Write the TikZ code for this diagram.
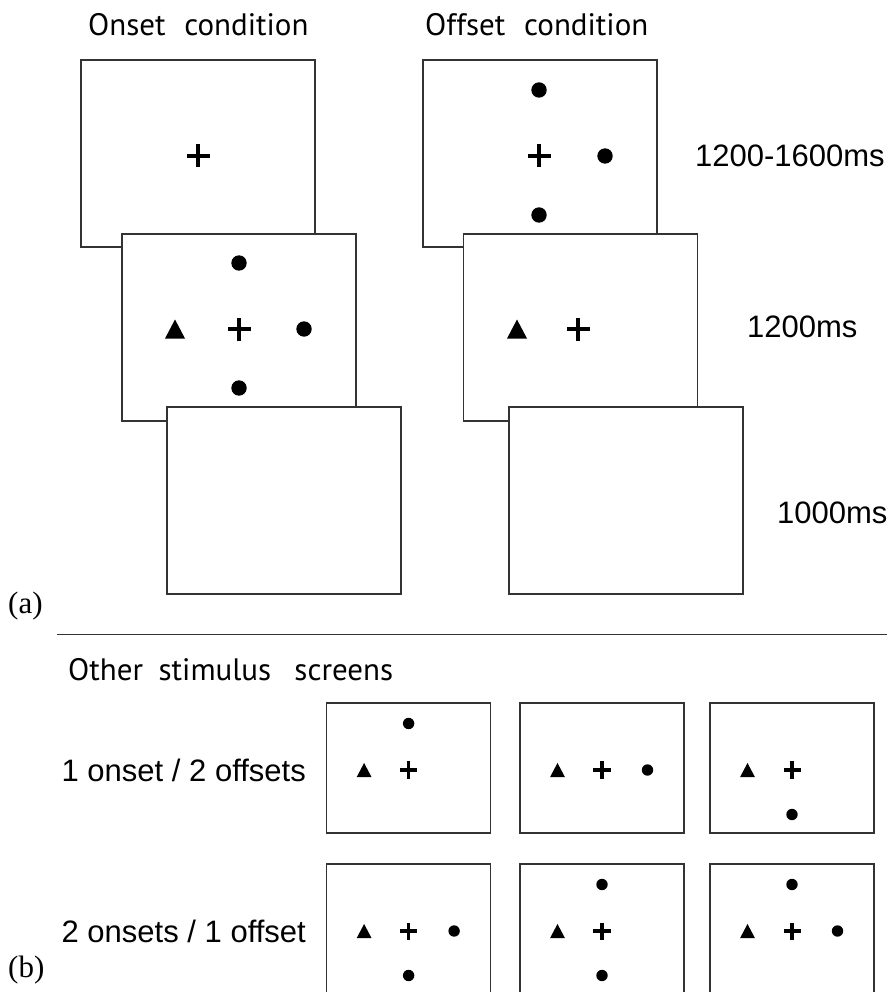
\documentclass[tikz,border=0pt]{standalone}
\usepackage{fontspec}
\setmainfont{Liberation Sans}
\newfontfamily\titlefont{PT Sans}
\newfontfamily\tagfont{Liberation Serif}
\usetikzlibrary{calc}

\tikzset{
  screen/.style={draw=black!80, line width=1.1pt, fill=white, inner sep=0pt},
  bigscreen/.style={screen, minimum width=234pt, minimum height=187pt},
  smallscreen/.style={screen, minimum width=164pt, minimum height=130pt},
  stimdot/.pic={\fill[black] (0,0) circle (7.7);},
  stimtri/.pic={\fill[black] (-10,9.5) -- (10,9.5) -- (0,-9.5) -- cycle;},
  stimplus/.pic={\fill[black] (-11.5,-2.4) rectangle (11.5,2.4); \fill[black] (-2.4,-11.5) rectangle (2.4,11.5);},
  small/.style={scale=0.74},
  timelabel/.style={font=\fontsize{31}{36}\selectfont, anchor=base west, inner sep=0pt},
  headlabel/.style={font=\titlefont\fontsize{31}{36}\selectfont, anchor=base west, inner sep=0pt},
  tag/.style={font=\tagfont\fontsize{31}{36}\selectfont, anchor=base west, inner sep=0pt},
}

\begin{document}
\begin{tikzpicture}[x=1pt, y=-1pt]
\useasboundingbox (0,0) rectangle (887,992);

% (a) onset and offset condition, three screens each
\node[headlabel] (onhead) at (88,36) {Onset\hspace{0.6em}condition};
\node[headlabel] (offhead) at (425,36) {Offset\hspace{0.6em}condition};

% onset condition
\node[bigscreen] (on1) at (198,153.5) {};
\pic at ($(on1)+(0,2.5)$) {stimplus};
\node[bigscreen] (on2) at (239,327.5) {};
\pic at ($(on2)+(0,1.5)$) {stimplus};
\pic at ($(on2)+(-64,1.5)$) {stimtri};
\pic at ($(on2)+(65,1.5)$) {stimdot};
\pic at ($(on2)+(0,-64.5)$) {stimdot};
\pic at ($(on2)+(0,60.5)$) {stimdot};
\node[bigscreen] (on3) at (284,500.5) {};

% offset condition
\node[bigscreen] (off1) at (540,153.5) {};
\pic at ($(off1)+(-1,2.5)$) {stimplus};
\pic at ($(off1)+(-1,-63.5)$) {stimdot};
\pic at ($(off1)+(-1,61.5)$) {stimdot};
\pic at ($(off1)+(65,2.5)$) {stimdot};
\node[bigscreen] (off2) at (580.5,327.5) {};
\pic at ($(off2)+(-2.5,1.5)$) {stimplus};
\pic at ($(off2)+(-63.5,1.5)$) {stimtri};
\node[bigscreen] (off3) at (626,500.5) {};

% durations
\node[timelabel] (t1) at (695,167) {1200-1600ms};
\node[timelabel] (t2) at (747,337) {1200ms};
\node[timelabel] (t3) at (777,523) {1000ms};

\node[tag] (taga) at (8,613) {(a)};

% divider
\coordinate (lineL) at (57,634);
\coordinate (lineR) at (887,634);
\draw[black!80, line width=1pt] (lineL) -- (lineR);

% (b) other stimulus screens
\node[headlabel] (otherhead) at (68,680) {Other\hspace{0.5em}stimulus\hspace{0.75em}screens};

\node[timelabel, anchor=east] (row1) at (306,770) {1 onset / 2 offsets};
\node[timelabel, anchor=east] (row2) at (306,931) {2 onsets / 1 offset};
\node[tag] (tagb) at (8,977) {(b)};

% first row
\node[smallscreen] (s11) at (408.6,768) {};
\pic[small] at ($(s11)+(0,2)$) {stimplus};
\pic[small] at ($(s11)+(-44.5,2)$) {stimtri};
\pic[small] at ($(s11)+(0,-44.5)$) {stimdot};
\node[smallscreen] (s12) at (602,768) {};
\pic[small] at ($(s12)+(0,2)$) {stimplus};
\pic[small] at ($(s12)+(-44.5,2)$) {stimtri};
\pic[small] at ($(s12)+(45.5,2)$) {stimdot};
\node[smallscreen] (s13) at (792,768) {};
\pic[small] at ($(s13)+(0,2)$) {stimplus};
\pic[small] at ($(s13)+(-44.5,2)$) {stimtri};
\pic[small] at ($(s13)+(0,46.5)$) {stimdot};

% second row
\node[smallscreen] (s21) at (408.6,929) {};
\pic[small] at ($(s21)+(0,2)$) {stimplus};
\pic[small] at ($(s21)+(-44.5,2)$) {stimtri};
\pic[small] at ($(s21)+(45.5,2)$) {stimdot};
\pic[small] at ($(s21)+(0,46.5)$) {stimdot};
\node[smallscreen] (s22) at (602,929) {};
\pic[small] at ($(s22)+(0,2)$) {stimplus};
\pic[small] at ($(s22)+(-44.5,2)$) {stimtri};
\pic[small] at ($(s22)+(0,-44.5)$) {stimdot};
\pic[small] at ($(s22)+(0,46.5)$) {stimdot};
\node[smallscreen] (s23) at (792,929) {};
\pic[small] at ($(s23)+(0,2)$) {stimplus};
\pic[small] at ($(s23)+(-44.5,2)$) {stimtri};
\pic[small] at ($(s23)+(45.5,2)$) {stimdot};
\pic[small] at ($(s23)+(0,-44.5)$) {stimdot};

\end{tikzpicture}
\end{document}
